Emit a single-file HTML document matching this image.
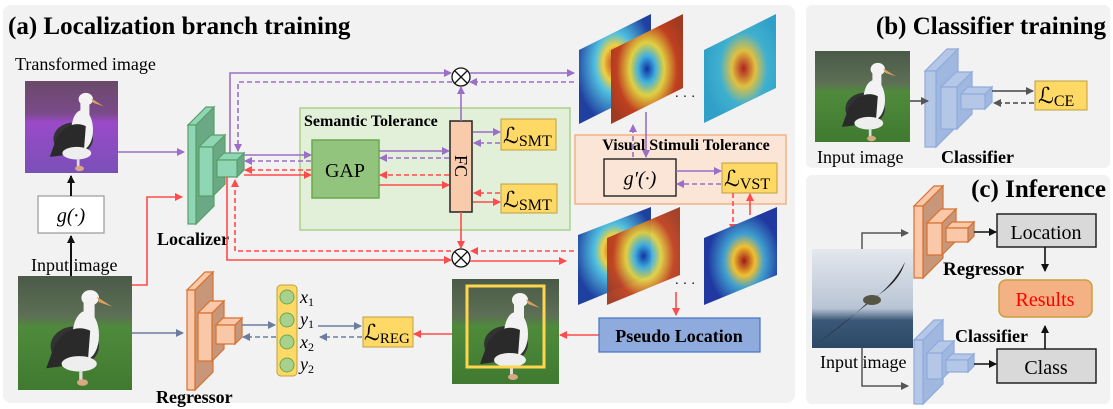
<!DOCTYPE html>
<html><head><meta charset="utf-8"><style>
html,body{margin:0;padding:0;background:#fff;}
svg{display:block;font-family:"Liberation Serif",serif;}
.b{font-weight:bold;}
</style></head><body>
<svg width="1113" height="409" viewBox="0 0 1113 409" xmlns="http://www.w3.org/2000/svg">
<defs>
<marker id="mp" markerWidth="8" markerHeight="8" refX="7" refY="4" orient="auto" markerUnits="userSpaceOnUse"><path d="M0,0 L8,4 L0,8 z" fill="#9b6fc8"/></marker>
<marker id="mr" markerWidth="8" markerHeight="8" refX="7" refY="4" orient="auto" markerUnits="userSpaceOnUse"><path d="M0,0 L8,4 L0,8 z" fill="#ff4b4b"/></marker>
<marker id="ms" markerWidth="8" markerHeight="8" refX="7" refY="4" orient="auto" markerUnits="userSpaceOnUse"><path d="M0,0 L8,4 L0,8 z" fill="#6b7c9c"/></marker>
<marker id="mk" markerWidth="8" markerHeight="8" refX="7" refY="4" orient="auto" markerUnits="userSpaceOnUse"><path d="M0,0 L8,4 L0,8 z" fill="#111"/></marker>
<marker id="mg" markerWidth="8" markerHeight="8" refX="7" refY="4" orient="auto" markerUnits="userSpaceOnUse"><path d="M0,0 L8,4 L0,8 z" fill="#555"/></marker>
<linearGradient id="grass" x1="0" y1="0" x2="0" y2="1"><stop offset="0" stop-color="#4a5a48"/><stop offset="0.35" stop-color="#5d6f55"/><stop offset="0.45" stop-color="#4f8a3c"/><stop offset="1" stop-color="#3f7a30"/></linearGradient>
<linearGradient id="purp" x1="0" y1="0" x2="0" y2="1"><stop offset="0" stop-color="#6a4a6a"/><stop offset="0.35" stop-color="#7a4a8a"/><stop offset="0.45" stop-color="#9a4ac8"/><stop offset="1" stop-color="#7a50b8"/></linearGradient>
<linearGradient id="sea" x1="0" y1="0" x2="0" y2="1"><stop offset="0" stop-color="#e4e8ee"/><stop offset="0.6" stop-color="#b8c4d4"/><stop offset="0.72" stop-color="#3c5878"/><stop offset="1" stop-color="#2c4866"/></linearGradient>
<radialGradient id="h1" cx="0.5" cy="0.45" r="0.55"><stop offset="0" stop-color="#c03020"/><stop offset="0.3" stop-color="#f0d040"/><stop offset="0.5" stop-color="#50c0e0"/><stop offset="1" stop-color="#2040a0"/></radialGradient>
<radialGradient id="h2" cx="0.5" cy="0.5" r="0.6"><stop offset="0" stop-color="#1030a0"/><stop offset="0.2" stop-color="#40b0e0"/><stop offset="0.4" stop-color="#e0d040"/><stop offset="0.7" stop-color="#c04020"/><stop offset="1" stop-color="#a03a20"/></radialGradient>
<radialGradient id="h3" cx="0.55" cy="0.5" r="0.55"><stop offset="0" stop-color="#b02020"/><stop offset="0.3" stop-color="#e0c040"/><stop offset="0.6" stop-color="#40b0d0"/><stop offset="1" stop-color="#30a0c8"/></radialGradient>
<radialGradient id="h4" cx="0.55" cy="0.55" r="0.5"><stop offset="0" stop-color="#a01818"/><stop offset="0.3" stop-color="#f0c030"/><stop offset="0.55" stop-color="#40a0d0"/><stop offset="1" stop-color="#2038a0"/></radialGradient>
<g id="bird">
<ellipse cx="48" cy="62" rx="22" ry="18" fill="#333"/>
<ellipse cx="58" cy="52" rx="12" ry="22" fill="#f2f2f2"/>
<ellipse cx="62" cy="18" rx="8" ry="7" fill="#f4f4f4"/>
<rect x="56" y="18" width="10" height="30" fill="#f2f2f2"/>
<path d="M68,17 L82,26 L70,22 z" fill="#d9a060"/>
<path d="M30,60 Q45,40 62,48 L60,74 Q45,80 22,82 z" fill="#2a2a2a"/>
<ellipse cx="52" cy="78" rx="16" ry="7" fill="#eee"/>
<rect x="52" y="84" width="3" height="10" fill="#ddd"/><ellipse cx="55" cy="95" rx="5" ry="3" fill="#d8a880"/>
</g>
</defs>

<rect x="3" y="5" width="792" height="398" rx="8" fill="#f2f2f2"/>
<rect x="806" y="5" width="304" height="163" rx="6" fill="#f2f2f2"/>
<rect x="806" y="175" width="304" height="229" rx="6" fill="#f2f2f2"/>

<text x="8" y="34" font-size="25" class="b">(a) Localization branch training</text>
<text x="1106" y="34" font-size="25" class="b" text-anchor="end">(b) Classifier training</text>
<text x="1106" y="197" font-size="25" class="b" text-anchor="end">(c) Inference</text>

<rect x="300" y="108" width="270" height="122" fill="#e2efd9" stroke="#a9d18e" stroke-width="1.5"/>
<text x="304" y="126" font-size="16" class="b">Semantic Tolerance</text>
<rect x="575" y="135" width="211" height="69" fill="#fbe5d6" stroke="#f4b183" stroke-width="1.5"/>
<text x="686" y="150" font-size="16" class="b" text-anchor="middle">Visual Stimuli Tolerance</text>

<rect x="25" y="81" width="93" height="92" fill="url(#purp)"/>
<use href="#bird" transform="translate(30,83) scale(0.9)"/>
<text x="15" y="70" font-size="18">Transformed image</text>
<rect x="38" y="196" width="66" height="37" fill="#fff" stroke="#999" stroke-width="1.2"/>
<text x="71" y="222" font-size="20" font-style="italic" text-anchor="middle">g(·)</text>
<text x="31" y="271" font-size="18">Input image</text>
<rect x="18" y="276" width="114" height="114" fill="url(#grass)"/>
<use href="#bird" transform="translate(22,278) scale(1.1)"/>

<line x1="71" y1="196" x2="71" y2="176" stroke="#111" stroke-width="2" marker-end="url(#mk)"/>
<line x1="71" y1="276" x2="71" y2="236" stroke="#111" stroke-width="2" marker-end="url(#mk)"/>

<g stroke="#5a9e68" stroke-width="1.2">
<polygon points="196,125 214,107 214,206 196,224" fill="#6aa886"/>
<polygon points="188,125 206,107 214,107 196,125" fill="#8fd6b4"/>
<rect x="188" y="125" width="8" height="99" fill="#8fd6b4"/>
<polygon points="213,147 225,135 225,184 213,196" fill="#6aa886"/>
<polygon points="199,147 211,135 225,135 213,147" fill="#8fd6b4"/>
<rect x="199" y="147" width="14" height="49" fill="#8fd6b4"/>
<polygon points="237,160 244,153 244,170 237,177" fill="#6aa886"/>
<polygon points="217,160 224,153 244,153 237,160" fill="#8fd6b4"/>
<rect x="217" y="160" width="20" height="17" fill="#8fd6b4"/>
</g>
<text x="157" y="245" font-size="18" class="b">Localizer</text>

<g stroke="#d87030" stroke-width="1.2">
<polygon points="195,290 213,272 213,372 195,390" fill="#c8977a"/>
<polygon points="187,290 205,272 213,272 195,290" fill="#f8c8a8"/>
<rect x="187" y="290" width="8" height="100" fill="#f8c8a8"/>
<polygon points="212,313 224,301 224,349 212,361" fill="#c8977a"/>
<polygon points="198,313 210,301 224,301 212,313" fill="#f8c8a8"/>
<rect x="198" y="313" width="14" height="48" fill="#f8c8a8"/>
<polygon points="235,325 242,318 242,337 235,344" fill="#c8977a"/>
<polygon points="216,325 223,318 242,318 235,325" fill="#f8c8a8"/>
<rect x="216" y="325" width="19" height="19" fill="#f8c8a8"/>
</g>
<text x="156" y="403" font-size="18" class="b">Regressor</text>

<rect x="312" y="140" width="67" height="58" fill="#93c47d" stroke="#6aa84f" stroke-width="1.5"/>
<text x="345" y="177" font-size="20" text-anchor="middle">GAP</text>
<rect x="450" y="121" width="22" height="91" fill="#f8cbad" stroke="#222" stroke-width="1.5"/>
<text x="461" y="166" font-size="18" text-anchor="middle" transform="rotate(90 461 166)" dy="6">FC</text>
<g font-size="22">
<rect x="501" y="119" width="55" height="31" fill="#ffd966" stroke="#bfa040"/>
<text x="503" y="143">ℒ<tspan font-size="16" dy="3">SMT</tspan></text>
<rect x="501" y="184" width="56" height="29" fill="#ffd966" stroke="#bfa040"/>
<text x="503" y="207">ℒ<tspan font-size="16" dy="3">SMT</tspan></text>
<rect x="722" y="163" width="55" height="30" fill="#ffd966" stroke="#bfa040"/>
<text x="724" y="186">ℒ<tspan font-size="16" dy="3">VST</tspan></text>
<rect x="363" y="317" width="50" height="30" fill="#ffd966" stroke="#bfa040"/>
<text x="364" y="340">ℒ<tspan font-size="15" dy="3">REG</tspan></text>
<rect x="1035" y="81" width="52" height="29" fill="#ffd966" stroke="#bfa040"/>
<text x="1038" y="103">ℒ<tspan font-size="16" dy="3">CE</tspan></text>
</g>
<rect x="604" y="159" width="72" height="37" fill="#fbe5d6" stroke="#111" stroke-width="1.3"/>
<text x="640" y="185" font-size="20" font-style="italic" text-anchor="middle">g′(·)</text>

<g fill="#fff" stroke="#111" stroke-width="1.3">
<circle cx="461" cy="77" r="9"/><path d="M455,71 L467,83 M467,71 L455,83"/>
<circle cx="461" cy="258" r="9"/><path d="M455,252 L467,264 M467,252 L455,264"/>
</g>

<g stroke="#9b6fc8" stroke-width="1.6" fill="none">
<line x1="118" y1="152" x2="184" y2="152" marker-end="url(#mp)"/>
<polyline points="230,153 230,73 451,73" marker-end="url(#mp)"/>
<line x1="470" y1="73" x2="574" y2="73" marker-end="url(#mp)"/>
<polyline points="574,82 470,82" stroke-dasharray="5,3" marker-end="url(#mp)"/>
<polyline points="452,82 238,82 238,151" stroke-dasharray="5,3" marker-end="url(#mp)"/>
<line x1="461" y1="121" x2="461" y2="87" marker-end="url(#mp)"/>
<line x1="244" y1="155" x2="311" y2="155" marker-end="url(#mp)"/>
<line x1="311" y1="161" x2="245" y2="161" stroke-dasharray="5,3" marker-end="url(#mp)"/>
<line x1="379" y1="151" x2="449" y2="151" marker-end="url(#mp)"/>
<line x1="449" y1="158" x2="380" y2="158" stroke-dasharray="5,3" marker-end="url(#mp)"/>
<line x1="473" y1="132" x2="500" y2="132" marker-end="url(#mp)"/>
<line x1="500" y1="143" x2="474" y2="143" stroke-dasharray="5,3" marker-end="url(#mp)"/>
<line x1="676" y1="171" x2="721" y2="171" marker-end="url(#mp)"/>
<line x1="721" y1="184" x2="677" y2="184" stroke-dasharray="5,3" marker-end="url(#mp)"/>
<line x1="633" y1="157" x2="633" y2="125" stroke-dasharray="5,3" marker-end="url(#mp)"/>
<line x1="646" y1="112" x2="646" y2="157" marker-end="url(#mp)"/>
</g>

<g stroke="#ff4b4b" stroke-width="1.6" fill="none">
<polyline points="132,285 147,285 147,197 182,197" marker-end="url(#mr)"/>
<polyline points="227,177 227,260 451,260" marker-end="url(#mr)"/>
<line x1="470" y1="261" x2="566" y2="261" marker-end="url(#mr)"/>
<line x1="574" y1="251" x2="471" y2="251" stroke-dasharray="5,3" marker-end="url(#mr)"/>
<polyline points="451,251 235,251 235,180" stroke-dasharray="5,3" marker-end="url(#mr)"/>
<line x1="461" y1="212" x2="461" y2="248" marker-end="url(#mr)"/>
<line x1="311" y1="170" x2="245" y2="170" stroke-dasharray="5,3" marker-end="url(#mr)"/>
<line x1="244" y1="175" x2="311" y2="175" marker-end="url(#mr)"/>
<line x1="449" y1="175" x2="380" y2="175" stroke-dasharray="5,3" marker-end="url(#mr)"/>
<line x1="379" y1="185" x2="449" y2="185" marker-end="url(#mr)"/>
<line x1="500" y1="193" x2="474" y2="193" stroke-dasharray="5,3" marker-end="url(#mr)"/>
<line x1="473" y1="202" x2="500" y2="202" marker-end="url(#mr)"/>
<line x1="733" y1="193" x2="733" y2="231" stroke-dasharray="5,3" marker-end="url(#mr)"/>
<line x1="750" y1="215" x2="750" y2="194" marker-end="url(#mr)"/>
<line x1="676" y1="292" x2="676" y2="315" marker-end="url(#mr)"/>
<line x1="599" y1="335" x2="560" y2="335" marker-end="url(#mr)"/>
<line x1="452" y1="334" x2="414" y2="334" marker-end="url(#mr)"/>
</g>

<polygon points="579,50 651,14 651,88 579,124" fill="url(#h1)"/>
<polygon points="611,50 683,14 683,88 611,124" fill="url(#h2)"/>
<polygon points="704,50 776,14 776,88 704,123" fill="url(#h3)"/>
<text x="685" y="101" font-size="14" text-anchor="middle">· · ·</text>
<polygon points="578,235 651,207 651,275 578,305" fill="url(#h1)"/>
<polygon points="607,238 680,207 680,275 607,305" fill="url(#h2)" opacity="0.95"/>
<polygon points="704,238 777,207 777,275 704,305" fill="url(#h4)"/>
<text x="685" y="288" font-size="14" text-anchor="middle">· · ·</text>

<rect x="599" y="318" width="161" height="34" fill="#8faadc" stroke="#4472c4" stroke-width="1.2"/>
<text x="679" y="342" font-size="18" class="b" text-anchor="middle">Pseudo Location</text>

<rect x="452" y="279" width="107" height="105" fill="url(#grass)"/>
<use href="#bird" transform="translate(458,282) scale(1.0)"/>
<rect x="467" y="286" width="77" height="81" fill="none" stroke="#ffd54f" stroke-width="3"/>

<rect x="277" y="285" width="20" height="91" rx="4" fill="#ffd966" stroke="#bfa040"/>
<g fill="#a9d18e" stroke="#6aa84f"><circle cx="287" cy="297" r="7"/><circle cx="287" cy="320" r="7"/><circle cx="287" cy="342" r="7"/><circle cx="287" cy="365" r="7"/></g>
<g font-size="18" font-style="italic">
<text x="300" y="303">x<tspan font-size="12" dy="3" font-style="normal">1</tspan></text>
<text x="300" y="325">y<tspan font-size="12" dy="3" font-style="normal">1</tspan></text>
<text x="300" y="348">x<tspan font-size="12" dy="3" font-style="normal">2</tspan></text>
<text x="300" y="370">y<tspan font-size="12" dy="3" font-style="normal">2</tspan></text>
</g>
<g stroke="#6b7c9c" stroke-width="1.6" fill="none">
<line x1="132" y1="333" x2="183" y2="333" marker-end="url(#ms)"/>
<line x1="242" y1="325" x2="275" y2="325" marker-end="url(#ms)"/>
<line x1="276" y1="337" x2="243" y2="337" stroke-dasharray="5,3" marker-end="url(#ms)"/>
<line x1="318" y1="326" x2="361" y2="326" marker-end="url(#ms)"/>
<line x1="362" y1="337" x2="320" y2="337" stroke-dasharray="5,3" marker-end="url(#ms)"/>
</g>

<rect x="815" y="51" width="95" height="91" fill="url(#grass)"/>
<use href="#bird" transform="translate(822,53) scale(0.9)"/>
<g stroke="#8faadc" stroke-width="1.2">
<polygon points="936,71 958,49 958,125 936,147" fill="#a0b8e0"/>
<polygon points="925,71 947,49 958,49 936,71" fill="#b4c7e7"/>
<rect x="925" y="71" width="11" height="76" fill="#b4c7e7"/>
<polygon points="957,87 972,72 972,114 957,129" fill="#a0b8e0"/>
<polygon points="941,87 956,72 972,72 957,87" fill="#b4c7e7"/>
<rect x="941" y="87" width="16" height="42" fill="#b4c7e7"/>
<polygon points="985,94 992,87 992,102 985,109" fill="#a0b8e0"/>
<polygon points="961,94 968,87 992,87 985,94" fill="#b4c7e7"/>
<rect x="961" y="94" width="24" height="15" fill="#b4c7e7"/>
</g>
<g stroke="#444" stroke-width="1.6">
<line x1="910" y1="101" x2="928" y2="101" marker-end="url(#mg)"/>
<line x1="992" y1="91" x2="1033" y2="91" marker-end="url(#mg)"/>
<line x1="1034" y1="103" x2="994" y2="103" stroke-dasharray="5,3" marker-end="url(#mg)"/>
</g>
<text x="817" y="163" font-size="18">Input image</text>
<text x="941" y="163" font-size="18" class="b">Classifier</text>

<rect x="812" y="249" width="101" height="99" fill="url(#sea)"/>
<path d="M818,343 Q850,320 870,300 L880,294 Q900,280 905,262 Q895,282 875,298 Q850,318 818,343z" fill="#222"/>
<ellipse cx="872" cy="300" rx="9" ry="5" fill="#554"/>
<g stroke="#d87030" stroke-width="1.2">
<polygon points="923,206 943,186 943,258 923,278" fill="#c8977a"/>
<polygon points="914,206 934,186 943,186 923,206" fill="#f8c8a8"/>
<rect x="914" y="206" width="9" height="72" fill="#f8c8a8"/>
<polygon points="942,223 956,209 956,241 942,255" fill="#c8977a"/>
<polygon points="927,223 941,209 956,209 942,223" fill="#f8c8a8"/>
<rect x="927" y="223" width="15" height="32" fill="#f8c8a8"/>
<polygon points="968,228 974,222 974,236 968,242" fill="#c8977a"/>
<polygon points="946,228 952,222 974,222 968,228" fill="#f8c8a8"/>
<rect x="946" y="228" width="22" height="14" fill="#f8c8a8"/>
</g>
<g stroke="#8faadc" stroke-width="1.2">
<polygon points="923,340 943,320 943,384 923,404" fill="#a0b8e0"/>
<polygon points="914,340 934,320 943,320 923,340" fill="#b4c7e7"/>
<rect x="914" y="340" width="9" height="64" fill="#b4c7e7"/>
<polygon points="942,353 954,341 954,367 942,379" fill="#a0b8e0"/>
<polygon points="927,353 939,341 954,341 942,353" fill="#b4c7e7"/>
<rect x="927" y="353" width="15" height="26" fill="#b4c7e7"/>
<polygon points="968,360 974,354 974,366 968,372" fill="#a0b8e0"/>
<polygon points="946,360 952,354 974,354 968,360" fill="#b4c7e7"/>
<rect x="946" y="360" width="22" height="12" fill="#b4c7e7"/>
</g>
<rect x="997" y="214" width="99" height="33" fill="#d9d9d9" stroke="#222" stroke-width="1.5"/>
<text x="1046" y="239" font-size="20" text-anchor="middle">Location</text>
<rect x="999" y="280" width="93" height="37" rx="7" fill="#f4b183" stroke="#c9a040" stroke-width="1.5"/>
<text x="1045" y="306" font-size="20" fill="#ff0000" text-anchor="middle">Results</text>
<rect x="997" y="349" width="99" height="34" fill="#d9d9d9" stroke="#222" stroke-width="1.5"/>
<text x="1046" y="374" font-size="20" text-anchor="middle">Class</text>
<g stroke="#111" stroke-width="1.6" fill="none">
<line x1="974" y1="232" x2="996" y2="232" marker-end="url(#mk)"/>
<line x1="974" y1="364" x2="996" y2="364" marker-end="url(#mk)"/>
<line x1="1045" y1="247" x2="1045" y2="271" marker-end="url(#mk)"/>
<line x1="1045" y1="349" x2="1045" y2="326" marker-end="url(#mk)"/>
</g>
<g stroke="#555" stroke-width="1.5" fill="none">
<polyline points="862,249 862,233 908,233" marker-end="url(#mg)"/>
<polyline points="862,348 862,386 908,386" marker-end="url(#mg)"/>
</g>
<text x="943" y="275" font-size="19" class="b">Regressor</text>
<text x="955" y="342" font-size="18" class="b">Classifier</text>
<text x="820" y="368" font-size="18">Input image</text>
</svg>
</body></html>
